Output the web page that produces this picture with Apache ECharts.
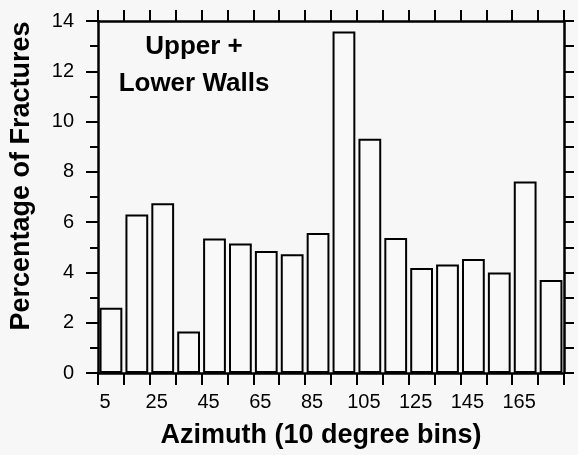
<!DOCTYPE html>
<html>
<head>
<meta charset="utf-8">
<script src="https://cdn.jsdelivr.net/npm/echarts@6/dist/echarts.min.js"></script>
<style>
  html, body { margin: 0; padding: 0; background: #f7f7f7; }
  #chart { width: 578px; height: 455px; }
</style>
</head>
<body>
<div id="chart"></div>
<script>
// azimuth bins (bin centres, degrees)
var bins = ['5','15','25','35','45','55','65','75','85','95','105','115','125','135','145','155','165','175'];
// percentage of fractures in each bin
var percent = [2.6, 6.3, 6.75, 1.65, 5.35, 5.15, 4.85, 4.72, 5.57, 13.58, 9.32, 5.37, 4.18, 4.32, 4.53, 4.0, 7.62, 3.7];
var yTicks = { min: 0, max: 14, step: 2 };

var font = '"Liberation Sans", Arial, Helvetica, sans-serif';
var black = '#000';

var chart = echarts.init(document.getElementById('chart'));

var option = {
  backgroundColor: '#f7f7f7',
  animation: false,
  grid: { left: 97, right: 14, top: 21, bottom: 82 },
  graphic: [{
    type: 'text',
    x: 194,
    y: 28,
    style: {
      text: 'Upper +\nLower Walls',
      align: 'center',
      verticalAlign: 'top',
      font: 'bold 26px ' + font,
      fill: black,
      lineHeight: 37
    }
  }],
  xAxis: [{
    type: 'category',
    data: bins,
    position: 'bottom',
    boundaryGap: true,
    name: 'Azimuth (10 degree bins)',
    nameLocation: 'middle',
    nameGap: 49,
    nameTextStyle: {
      fontFamily: font, fontWeight: 'bold', fontSize: 27, color: black,
      padding: [0, 20, 0, 0]
    },
    axisLine: { onZero: false, lineStyle: { color: black, width: 2.5 } },
    axisTick: { show: true, interval: 0, length: 12, lineStyle: { color: black, width: 2 } },
    axisLabel: {
      interval: 1, margin: 19, fontFamily: font, fontSize: 20, color: black,
      padding: [0, 12, 0, 0]
    }
  }, {
    type: 'category',
    data: bins,
    position: 'top',
    boundaryGap: true,
    axisLine: { onZero: false, lineStyle: { color: black, width: 2.5 } },
    axisTick: { show: true, interval: 0, length: 11, lineStyle: { color: black, width: 2 } },
    axisLabel: { show: false }
  }],
  yAxis: [{
    type: 'value',
    position: 'left',
    min: yTicks.min,
    max: yTicks.max,
    interval: yTicks.step,
    name: 'Percentage of Fractures',
    nameLocation: 'middle',
    nameGap: 63,
    nameTextStyle: {
      fontFamily: font, fontWeight: 'bold', fontSize: 27, color: black,
      padding: [0, 0, 0, 42]
    },
    axisLine: { show: true, onZero: false, lineStyle: { color: black, width: 2.5 } },
    axisTick: { show: true, length: 12, lineStyle: { color: black, width: 2 } },
    minorTick: { show: true, splitNumber: 2, length: 8, lineStyle: { color: black, width: 2 } },
    splitLine: { show: false },
    axisLabel: { margin: 24, fontFamily: font, fontSize: 20, color: black }
  }, {
    type: 'value',
    position: 'right',
    min: yTicks.min,
    max: yTicks.max,
    interval: yTicks.step,
    axisLine: { show: true, onZero: false, lineStyle: { color: black, width: 2.5 } },
    axisTick: { show: true, length: 10, lineStyle: { color: black, width: 2 } },
    minorTick: { show: true, splitNumber: 2, length: 10, lineStyle: { color: black, width: 2 } },
    splitLine: { show: false },
    axisLabel: { show: false }
  }],
  series: [{
    type: 'bar',
    data: percent,
    xAxisIndex: 0,
    yAxisIndex: 0,
    barCategoryGap: '12%',
    itemStyle: { color: '#f9f9f9', borderColor: black, borderWidth: 2 }
  }]
};

chart.setOption(option);
</script>
</body>
</html>
